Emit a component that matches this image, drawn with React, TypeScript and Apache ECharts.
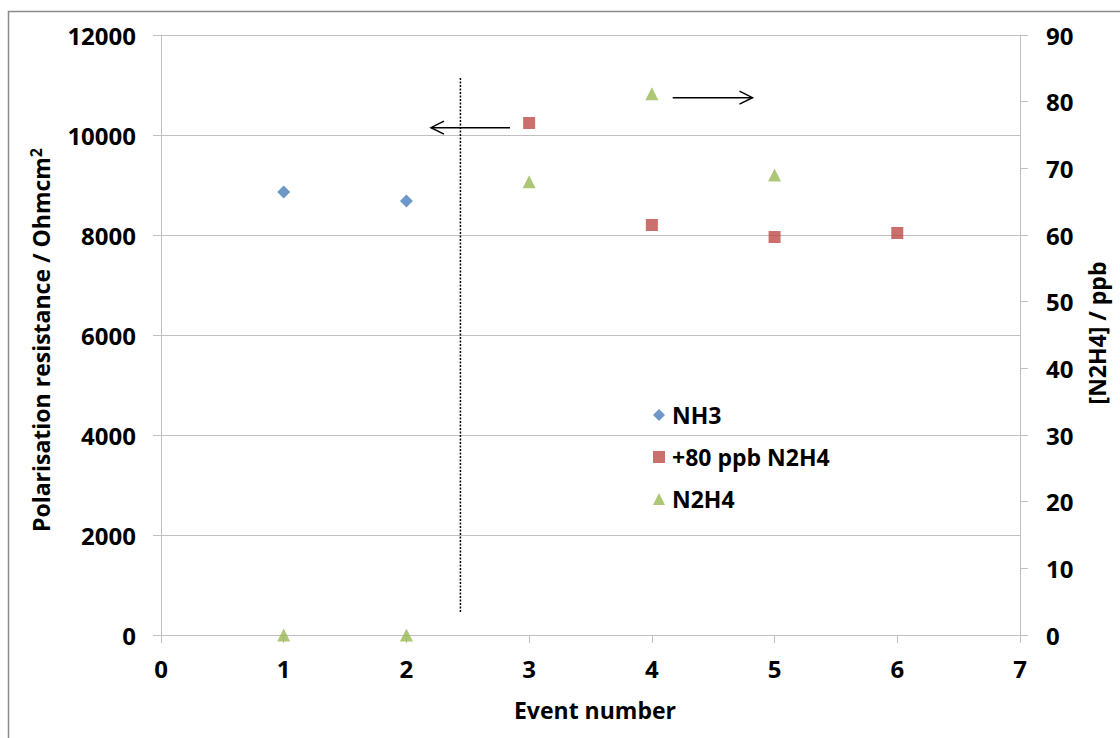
import React, { useEffect, useRef } from "react";
import * as echarts from "echarts";

const FONT = "'Open Sans', 'Liberation Sans', sans-serif";

// x-axis ticks
const xTicks = [0, 1, 2, 3, 4, 5, 6, 7];

// NH3 (left axis, Ohm cm2)
const nh3Events = [1, 2];
const nh3Resistance = [8860, 8680];

// +80 ppb N2H4 (left axis, Ohm cm2)
const addedEvents = [3, 4, 5, 6];
const addedResistance = [10240, 8200, 7960, 8040];

// N2H4 concentration (right axis, ppb)
const n2h4Events = [1, 2, 3, 4, 5];
const n2h4Ppb = [0, 0, 68, 81.2, 69];

// annotations in data space (left axis): x1, y1, x2, y2, kind (0 = dotted divider, 1 = arrow)
const dividerLine = [2.44, 460, 2.44, 11170, 0];
const leftArrow = [2.844, 10146, 2.2, 10146, 1];
const rightArrow = [4.17, 10746, 4.82, 10746, 1];

const seriesNames = ["NH3", "+80 ppb N2H4", "N2H4"];

export default function App() {
  const ref = useRef<HTMLDivElement>(null);

  useEffect(() => {
    if (!ref.current) return;
    const chart = echarts.init(ref.current, null, { renderer: "svg" });

    const axisColor = "#bfbfbf";
    const labelStyle = {
      fontFamily: FONT,
      fontSize: 24,
      fontWeight: "bold" as const,
      color: "#000",
    };
    const plain = (v: number) => String(v);

    const option: any = {
      animation: false,
      backgroundColor: "#fff",
      grid: { left: 161, right: 100, top: 35, bottom: 103, containLabel: false },
      xAxis: {
        type: "value",
        min: xTicks[0],
        max: xTicks[xTicks.length - 1],
        interval: 1,
        axisLine: { show: true, onZero: false, lineStyle: { color: axisColor, width: 1 } },
        axisTick: { show: true, length: 8, lineStyle: { color: axisColor } },
        splitLine: { show: false },
        axisLabel: { ...labelStyle, margin: 21, formatter: plain },
      },
      yAxis: [
        {
          type: "value",
          position: "left",
          min: 0,
          max: 12000,
          interval: 2000,
          axisLine: { show: true, onZero: false, lineStyle: { color: axisColor } },
          axisTick: { show: true, length: 8, lineStyle: { color: axisColor } },
          splitLine: { show: true, lineStyle: { color: axisColor, width: 1 } },
          axisLabel: { ...labelStyle, margin: 25, formatter: plain },
        },
        {
          type: "value",
          position: "right",
          min: 0,
          max: 90,
          interval: 10,
          axisLine: { show: true, onZero: false, lineStyle: { color: axisColor } },
          axisTick: { show: true, length: 8, lineStyle: { color: axisColor } },
          splitLine: { show: false },
          axisLabel: { ...labelStyle, margin: 26, formatter: plain },
        },
      ],
      legend: {
        data: seriesNames,
        orient: "vertical",
        left: 648,
        top: 398,
        itemWidth: 12,
        itemHeight: 12,
        itemGap: 18,
        textStyle: {
          fontFamily: FONT,
          fontSize: 23,
          fontWeight: "bold",
          color: "#000",
          lineHeight: 24,
          padding: [0, 0, 0, 2],
        },
      },
      series: [
        {
          name: seriesNames[0],
          type: "scatter",
          yAxisIndex: 0,
          symbol: "diamond",
          symbolSize: 13,
          itemStyle: { color: "#4a7ebb" },
          data: nh3Events.map((e, i) => [e, nh3Resistance[i]]),
        },
        {
          name: seriesNames[1],
          type: "scatter",
          yAxisIndex: 0,
          symbol: "rect",
          symbolSize: 12,
          itemStyle: { color: "#be4b48" },
          data: addedEvents.map((e, i) => [e, addedResistance[i]]),
        },
        {
          name: seriesNames[2],
          type: "scatter",
          yAxisIndex: 1,
          symbol: "triangle",
          symbolSize: 13,
          itemStyle: { color: "#98b954" },
          data: n2h4Events.map((e, i) => [e, n2h4Ppb[i]]),
        },
        {
          name: "annotations",
          type: "custom",
          yAxisIndex: 0,
          clip: false,
          z: 5,
          encode: { x: [0, 2], y: [1, 3] },
          data: [dividerLine, leftArrow, rightArrow],
          renderItem: (params: any, api: any) => {
            const p1 = api.coord([api.value(0), api.value(1)]);
            const p2 = api.coord([api.value(2), api.value(3)]);
            const kind = api.value(4);
            if (kind === 0) {
              return {
                type: "line",
                shape: { x1: p1[0], y1: p1[1], x2: p2[0], y2: p2[1] },
                style: { stroke: "#000", lineWidth: 1.5, lineDash: [2, 1.5] },
              };
            }
            const dx = p2[0] - p1[0];
            const dy = p2[1] - p1[1];
            const len = Math.sqrt(dx * dx + dy * dy) || 1;
            const ux = dx / len;
            const uy = dy / len;
            const nx = -uy;
            const ny = ux;
            const L = 13;
            const H = 6.5;
            return {
              type: "group",
              children: [
                {
                  type: "line",
                  shape: { x1: p1[0], y1: p1[1], x2: p2[0], y2: p2[1] },
                  style: { stroke: "#000", lineWidth: 1.5 },
                },
                {
                  type: "polyline",
                  shape: {
                    points: [
                      [p2[0] - L * ux + H * nx, p2[1] - L * uy + H * ny],
                      [p2[0], p2[1]],
                      [p2[0] - L * ux - H * nx, p2[1] - L * uy - H * ny],
                    ],
                  },
                  style: { stroke: "#000", lineWidth: 1.5, fill: "none" },
                },
              ],
            };
          },
        },
      ],
      graphic: [
        {
          type: "rect",
          z: -1,
          silent: true,
          shape: { x: 8.5, y: 11.5, width: 1300, height: 900 },
          style: { fill: "none", stroke: "#8a8a8a", lineWidth: 1.5 },
        },
        {
          type: "text",
          x: 41,
          y: 340,
          rotation: Math.PI / 2,
          style: {
            text: "Polarisation resistance / Ohmcm{sup|2}",
            fontFamily: FONT,
            fontSize: 23,
            fontWeight: "bold",
            fill: "#000",
            align: "center",
            verticalAlign: "middle",
            lineHeight: 26,
            rich: {
              sup: {
                fontFamily: FONT,
                fontSize: 16,
                fontWeight: "bold",
                fill: "#000",
                verticalAlign: "top",
                lineHeight: 16,
              },
            },
          },
        },
        {
          type: "text",
          x: 1097,
          y: 333,
          rotation: Math.PI / 2,
          style: {
            text: "[N2H4] / ppb",
            fontFamily: FONT,
            fontSize: 23,
            fontWeight: "bold",
            fill: "#000",
            align: "center",
            verticalAlign: "middle",
          },
        },
        {
          type: "text",
          x: 595,
          y: 710,
          style: {
            text: "Event number",
            fontFamily: FONT,
            fontSize: 23,
            fontWeight: "bold",
            fill: "#000",
            align: "center",
            verticalAlign: "middle",
          },
        },
      ],
    };

    chart.setOption(option);
    return () => chart.dispose();
  }, []);

  return (
    <div
      ref={ref}
      style={{ position: "absolute", left: 0, top: 0, width: 1120, height: 738 }}
    />
  );
}
